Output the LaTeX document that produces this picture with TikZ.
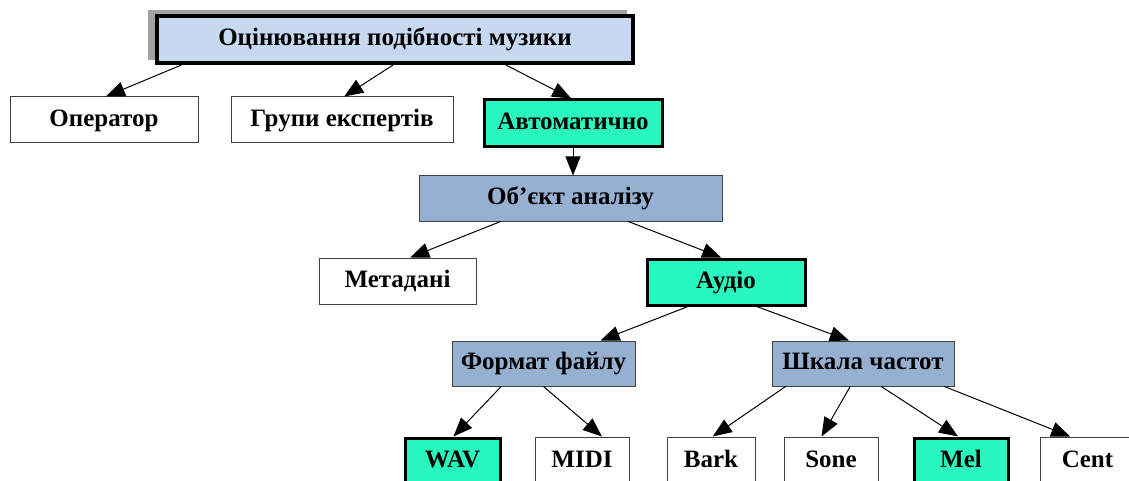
\documentclass[tikz,border=0pt]{standalone}
\usepackage{fontspec}
\setmainfont{Liberation Serif}
\usetikzlibrary{calc,arrows.meta}
\definecolor{aqua}{HTML}{28F8C0}
\definecolor{steel}{HTML}{95B0D1}
\definecolor{lblue}{HTML}{C6D9F0}
\definecolor{shadowgray}{HTML}{A3A3A3}
\definecolor{thinedge}{HTML}{404040}
\tikzset{
  base/.style={rectangle, inner sep=0pt, text height=17pt, text depth=4.4pt, font=\fontsize{25}{25}\selectfont\bfseries, text=black},
  plainbox/.style={base, draw=thinedge, line width=1pt, fill=white},
  greenbox/.style={base, draw=black, line width=3pt, fill=aqua},
  steelbox/.style={base, draw=thinedge, line width=1pt, fill=steel},
  topbox/.style={base, draw=black, line width=4pt, fill=lblue},
  conn/.style={line width=1pt, -{Triangle[length=19pt,width=15pt]}}
}
\newcommand{\bx}[7]{\node[#6, minimum width={(#4-#2)*1pt}, minimum height={(#5-#3)*1pt}] (#1) at ({(#2+#4)/2},{(#3+#5)/2}) {#7};}
\newcommand{\link}[4]{\draw[conn] ($(#1.south west)!#2!(#1.south east)$) -- ($(#3.north west)!#4!(#3.north east)$);}
\begin{document}
\begin{tikzpicture}[x=1pt,y=-1pt]
\useasboundingbox (0,0) rectangle (1129,481);
\fill[shadowgray] (148,10) rectangle (627,60);
\bx{top}{157}{16}{633}{63}{topbox}{Оцінювання подібності музики}
\bx{oper}{10}{97}{198}{143}{plainbox}{Оператор}
\bx{exp}{231}{97}{453}{143}{plainbox}{Групи експертів}
\bx{auto}{484}{100}{662}{147}{greenbox}{Автоматично}
\bx{obj}{419}{176}{722}{221}{steelbox}{Об’єкт аналізу}
\bx{meta}{319}{258}{476}{304}{plainbox}{Метадані}
\bx{audio}{647}{259}{805}{305}{greenbox}{Аудіо}
\bx{fmt}{452}{341}{635}{386}{steelbox}{Формат файлу}
\bx{scale}{772}{341}{954}{386}{steelbox}{Шкала частот}
\bx{wav}{405}{438}{500}{485}{greenbox}{WAV}
\bx{midi}{535}{437}{629}{485}{plainbox}{MIDI}
\bx{bark}{667}{437}{755}{485}{plainbox}{Bark}
\bx{sone}{784}{437}{878}{485}{plainbox}{Sone}
\bx{mel}{914}{438}{1008}{485}{greenbox}{Mel}
\bx{cent}{1040}{437}{1135}{485}{plainbox}{Cent}
\link{top}{0.055}{oper}{0.51}
\link{top}{0.496}{exp}{0.51}
\link{top}{0.731}{auto}{0.49}
\draw[conn] (auto.south) -- (auto.south |- obj.north);
\link{obj}{0.27}{meta}{0.58}
\link{obj}{0.69}{audio}{0.47}
\link{audio}{0.264}{fmt}{0.81}
\link{audio}{0.69}{scale}{0.423}
\link{fmt}{0.27}{wav}{0.51}
\link{fmt}{0.50}{midi}{0.71}
\link{scale}{0.077}{bark}{0.52}
\link{scale}{0.43}{sone}{0.40}
\link{scale}{0.60}{mel}{0.47}
\link{scale}{0.945}{cent}{0.32}
\end{tikzpicture}
\end{document}
